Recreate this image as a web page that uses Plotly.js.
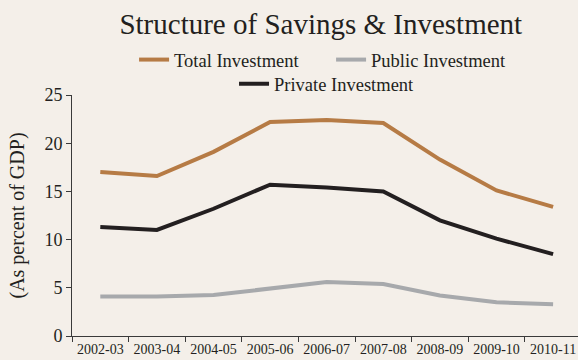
<!DOCTYPE html>
<html>
<head>
<meta charset="utf-8">
<script src="https://cdn.plot.ly/plotly-3.0.1.min.js"></script>
<style>
  html, body { margin: 0; padding: 0; background: #f4efe9; }
  #chart { width: 578px; height: 360px; }
</style>
</head>
<body>
<div id="chart"></div>
<script>
// Fiscal years on the category axis
const years = ['2002-03', '2003-04', '2004-05', '2005-06', '2006-07',
               '2007-08', '2008-09', '2009-10', '2010-11'];

// Investment as percent of GDP
const totalInvestment   = [17.0, 16.6, 19.1, 22.2, 22.4, 22.1, 18.3, 15.1, 13.4];
const publicInvestment  = [4.1, 4.1, 4.25, 4.9, 5.6, 5.4, 4.2, 3.5, 3.3];
const privateInvestment = [11.3, 11.0, 13.2, 15.7, 15.4, 15.0, 12.0, 10.1, 8.5];

const serif = '"Liberation Serif", "Times New Roman", serif';
const ink = '#231f20';

const traces = [
  { x: years, y: totalInvestment, name: 'Total Investment', type: 'scatter', mode: 'lines',
    line: { color: '#b67b45', width: 4 }, legend: 'legend' },
  { x: years, y: publicInvestment, name: 'Public Investment', type: 'scatter', mode: 'lines',
    line: { color: '#a7a9ac', width: 4 }, legend: 'legend' },
  { x: years, y: privateInvestment, name: 'Private Investment', type: 'scatter', mode: 'lines',
    line: { color: ink, width: 4 }, legend: 'legend2' }
];

const layout = {
  width: 578, height: 360,
  margin: { l: 72, r: 0, t: 95, b: 24 },
  paper_bgcolor: '#f4efe9',
  plot_bgcolor: '#f4efe9',
  font: { family: serif, color: ink },
  title: {
    text: 'Structure of Savings & Investment',
    font: { family: serif, size: 29, color: ink },
    x: 0.555, xanchor: 'center',
    y: 0.935, yanchor: 'middle'
  },
  showlegend: true,
  legend: {
    orientation: 'h', x: 0.512, xanchor: 'center', y: 1.145, yanchor: 'middle',
    font: { family: serif, size: 18.5, color: ink },
    entrywidth: 152, entrywidthmode: 'pixels',
    bgcolor: 'rgba(0,0,0,0)', traceorder: 'normal'
  },
  legend2: {
    orientation: 'h', x: 0.504, xanchor: 'center', y: 1.045, yanchor: 'middle',
    font: { family: serif, size: 18.5, color: ink },
    bgcolor: 'rgba(0,0,0,0)'
  },
  xaxis: {
    type: 'category',
    range: [-0.5, 8.44],
    tickson: 'boundaries',
    ticks: 'outside', ticklen: 5, tickcolor: '#3a3a3a',
    showline: true, linecolor: '#3a3a3a', linewidth: 1,
    showgrid: false, zeroline: false,
    tickfont: { family: serif, size: 14, color: ink },
    fixedrange: true
  },
  yaxis: {
    range: [0, 25], dtick: 5,
    ticks: 'outside', ticklen: 5, tickcolor: '#3a3a3a',
    showline: true, linecolor: '#3a3a3a', linewidth: 1,
    showgrid: false, zeroline: false,
    tickfont: { family: serif, size: 18, color: ink },
    title: { text: '(As percent of GDP)', font: { family: serif, size: 20, color: ink }, standoff: 14 },
    fixedrange: true
  }
};

Plotly.newPlot('chart', traces, layout, { displayModeBar: false, staticPlot: true });
</script>
</body>
</html>
